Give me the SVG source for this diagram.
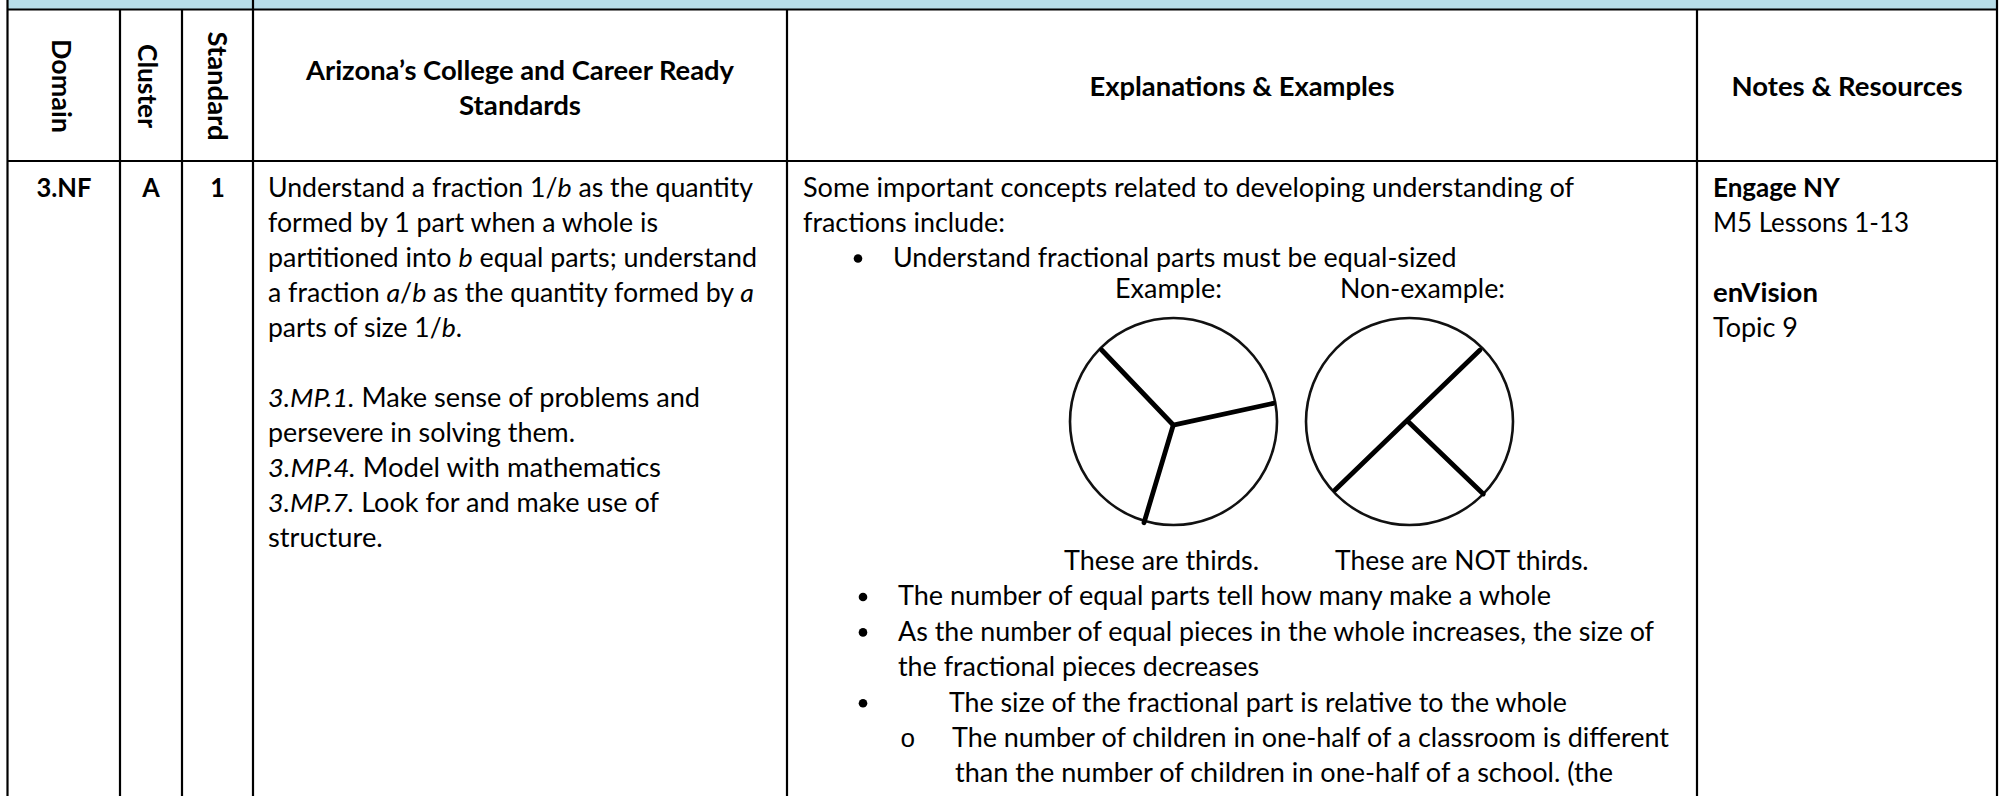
<svg xmlns="http://www.w3.org/2000/svg" width="2001" height="796" viewBox="0 0 2001 796">
<style>
.t{font-family:Lato,"Liberation Sans",sans-serif;font-size:26px;fill:#000}
.b{font-weight:700}
.m{text-anchor:middle}
.g{stroke:#000;stroke-width:2.2;fill:none}
.c{stroke:#111;stroke-width:2.6;fill:none}
.s{stroke:#000;stroke-width:4.8;stroke-linecap:round;fill:none}
</style>
<rect width="2001" height="796" fill="#fff"/>
<g id="band"><rect x="7.5" y="0" width="1989.5" height="9.5" fill="#B7DDE8"/></g>
<g id="grid" class="g">
<line x1="7.5" y1="9.5" x2="1997" y2="9.5"/>
<line x1="7.5" y1="161" x2="1997" y2="161"/>
<line x1="7.5" y1="0" x2="7.5" y2="796"/>
<line x1="253" y1="0" x2="253" y2="796"/>
<line x1="1997" y1="0" x2="1997" y2="796"/>
<line x1="120" y1="9.5" x2="120" y2="796"/>
<line x1="182" y1="9.5" x2="182" y2="796"/>
<line x1="787" y1="9.5" x2="787" y2="796"/>
<line x1="1697" y1="9.5" x2="1697" y2="796"/>
</g>
<g id="hdr-domain"><text class="t b m" transform="translate(52,86) rotate(90)" textLength="94" lengthAdjust="spacingAndGlyphs">Domain</text></g>
<g id="hdr-cluster"><text class="t b m" transform="translate(137.5,86) rotate(90)" textLength="84" lengthAdjust="spacingAndGlyphs">Cluster</text></g>
<g id="hdr-standard"><text class="t b m" transform="translate(207.5,86) rotate(90)" textLength="109" lengthAdjust="spacingAndGlyphs">Standard</text></g>
<g id="hdr-standards">
<text class="t b m" x="520" y="80" textLength="428" lengthAdjust="spacingAndGlyphs">Arizona’s College and Career Ready</text>
<text class="t b m" x="520" y="114.5" textLength="122" lengthAdjust="spacingAndGlyphs">Standards</text>
</g>
<g id="hdr-explanations"><text class="t b m" x="1242" y="95.5" textLength="305" lengthAdjust="spacingAndGlyphs">Explanations &amp; Examples</text></g>
<g id="hdr-notes"><text class="t b m" x="1847" y="95.5" textLength="231" lengthAdjust="spacingAndGlyphs">Notes &amp; Resources</text></g>
<g id="cell-domain"><text class="t b m" x="64" y="196.5" textLength="55" lengthAdjust="spacingAndGlyphs">3.NF</text></g>
<g id="cell-cluster"><text class="t b m" x="151" y="196.5" textLength="17.5" lengthAdjust="spacingAndGlyphs">A</text></g>
<g id="cell-standard"><text class="t b m" x="217.5" y="196.5" textLength="14.6" lengthAdjust="spacingAndGlyphs">1</text></g>
<g id="cell-standards">
<text class="t" x="268" y="196.5" textLength="485" lengthAdjust="spacingAndGlyphs">Understand a fraction 1/<tspan font-style="italic">b</tspan> as the quantity</text>
<text class="t" x="268" y="231.7" textLength="390" lengthAdjust="spacingAndGlyphs">formed by 1 part when a whole is</text>
<text class="t" x="268" y="266.9" textLength="489" lengthAdjust="spacingAndGlyphs">partitioned into <tspan font-style="italic">b</tspan> equal parts; understand</text>
<text class="t" x="268" y="302.1" textLength="486" lengthAdjust="spacingAndGlyphs">a fraction <tspan font-style="italic">a</tspan>/<tspan font-style="italic">b</tspan> as the quantity formed by <tspan font-style="italic">a</tspan></text>
<text class="t" x="268" y="337.3" textLength="194" lengthAdjust="spacingAndGlyphs">parts of size 1/<tspan font-style="italic">b</tspan>.</text>
<text class="t" x="268" y="406.5" textLength="432" lengthAdjust="spacingAndGlyphs"><tspan font-style="italic">3.MP.1.</tspan> Make sense of problems and</text>
<text class="t" x="268" y="441.7" textLength="307" lengthAdjust="spacingAndGlyphs">persevere in solving them.</text>
<text class="t" x="268" y="476.9" textLength="393" lengthAdjust="spacingAndGlyphs"><tspan font-style="italic">3.MP.4.</tspan> Model with mathematics</text>
<text class="t" x="268" y="512.1" textLength="391" lengthAdjust="spacingAndGlyphs"><tspan font-style="italic">3.MP.7.</tspan> Look for and make use of</text>
<text class="t" x="268" y="547.3" textLength="114.7" lengthAdjust="spacingAndGlyphs">structure.</text>
</g>
<g id="cell-explanations">
<text class="t" x="803" y="196.5" textLength="771" lengthAdjust="spacingAndGlyphs">Some important concepts related to developing understanding of</text>
<text class="t" x="803" y="231.7" textLength="202" lengthAdjust="spacingAndGlyphs">fractions include:</text>
<circle cx="858" cy="258.5" r="4.3" fill="#000"/>
<text class="t" x="893" y="266.9" textLength="563.5" lengthAdjust="spacingAndGlyphs">Understand fractional parts must be equal-sized</text>
<text class="t" x="1115" y="297.5" textLength="107" lengthAdjust="spacingAndGlyphs">Example:</text>
<text class="t" x="1340" y="297.5" textLength="165" lengthAdjust="spacingAndGlyphs">Non-example:</text>
<text class="t" x="1064" y="570" textLength="195" lengthAdjust="spacingAndGlyphs">These are thirds.</text>
<text class="t" x="1335" y="570" textLength="253.6" lengthAdjust="spacingAndGlyphs">These are NOT thirds.</text>
<circle cx="863" cy="597" r="4.3" fill="#000"/>
<text class="t" x="898" y="605.4" textLength="653" lengthAdjust="spacingAndGlyphs">The number of equal parts tell how many make a whole</text>
<circle cx="863" cy="632.4" r="4.3" fill="#000"/>
<text class="t" x="898" y="640.8" textLength="756" lengthAdjust="spacingAndGlyphs">As the number of equal pieces in the whole increases, the size of</text>
<text class="t" x="898" y="676.2" textLength="361" lengthAdjust="spacingAndGlyphs">the fractional pieces decreases</text>
<circle cx="863" cy="703.2" r="4.3" fill="#000"/>
<text class="t" x="949" y="711.6" textLength="618" lengthAdjust="spacingAndGlyphs">The size of the fractional part is relative to the whole</text>
<text x="900" y="747" style="font-family:'Liberation Mono',monospace;font-size:26px">o</text>
<text class="t" x="952" y="747" textLength="717" lengthAdjust="spacingAndGlyphs">The number of children in one-half of a classroom is different</text>
<text class="t" x="955" y="782.4" textLength="658" lengthAdjust="spacingAndGlyphs">than the number of children in one-half of a school. (the</text>
</g>
<g id="fig-thirds">
<circle class="c" cx="1173.5" cy="421.5" r="103.5"/>
<polyline class="s" points="1101.7,350 1173.3,425 1273.3,403.3"/>
<line class="s" x1="1173.3" y1="425" x2="1144" y2="522.7"/>
</g>
<g id="fig-not-thirds">
<circle class="c" cx="1409.5" cy="421.5" r="103.5"/>
<line class="s" x1="1335" y1="490" x2="1480" y2="350"/>
<line class="s" x1="1408.3" y1="421.7" x2="1483.3" y2="494"/>
</g>
<g id="cell-notes">
<text class="t b" x="1713" y="196.5" textLength="127" lengthAdjust="spacingAndGlyphs">Engage NY</text>
<text class="t" x="1713" y="231.7" textLength="196" lengthAdjust="spacingAndGlyphs">M5 Lessons 1-13</text>
<text class="t b" x="1713" y="302.1" textLength="105" lengthAdjust="spacingAndGlyphs">enVision</text>
<text class="t" x="1713" y="337.3" textLength="85" lengthAdjust="spacingAndGlyphs">Topic 9</text>
</g>
</svg>
